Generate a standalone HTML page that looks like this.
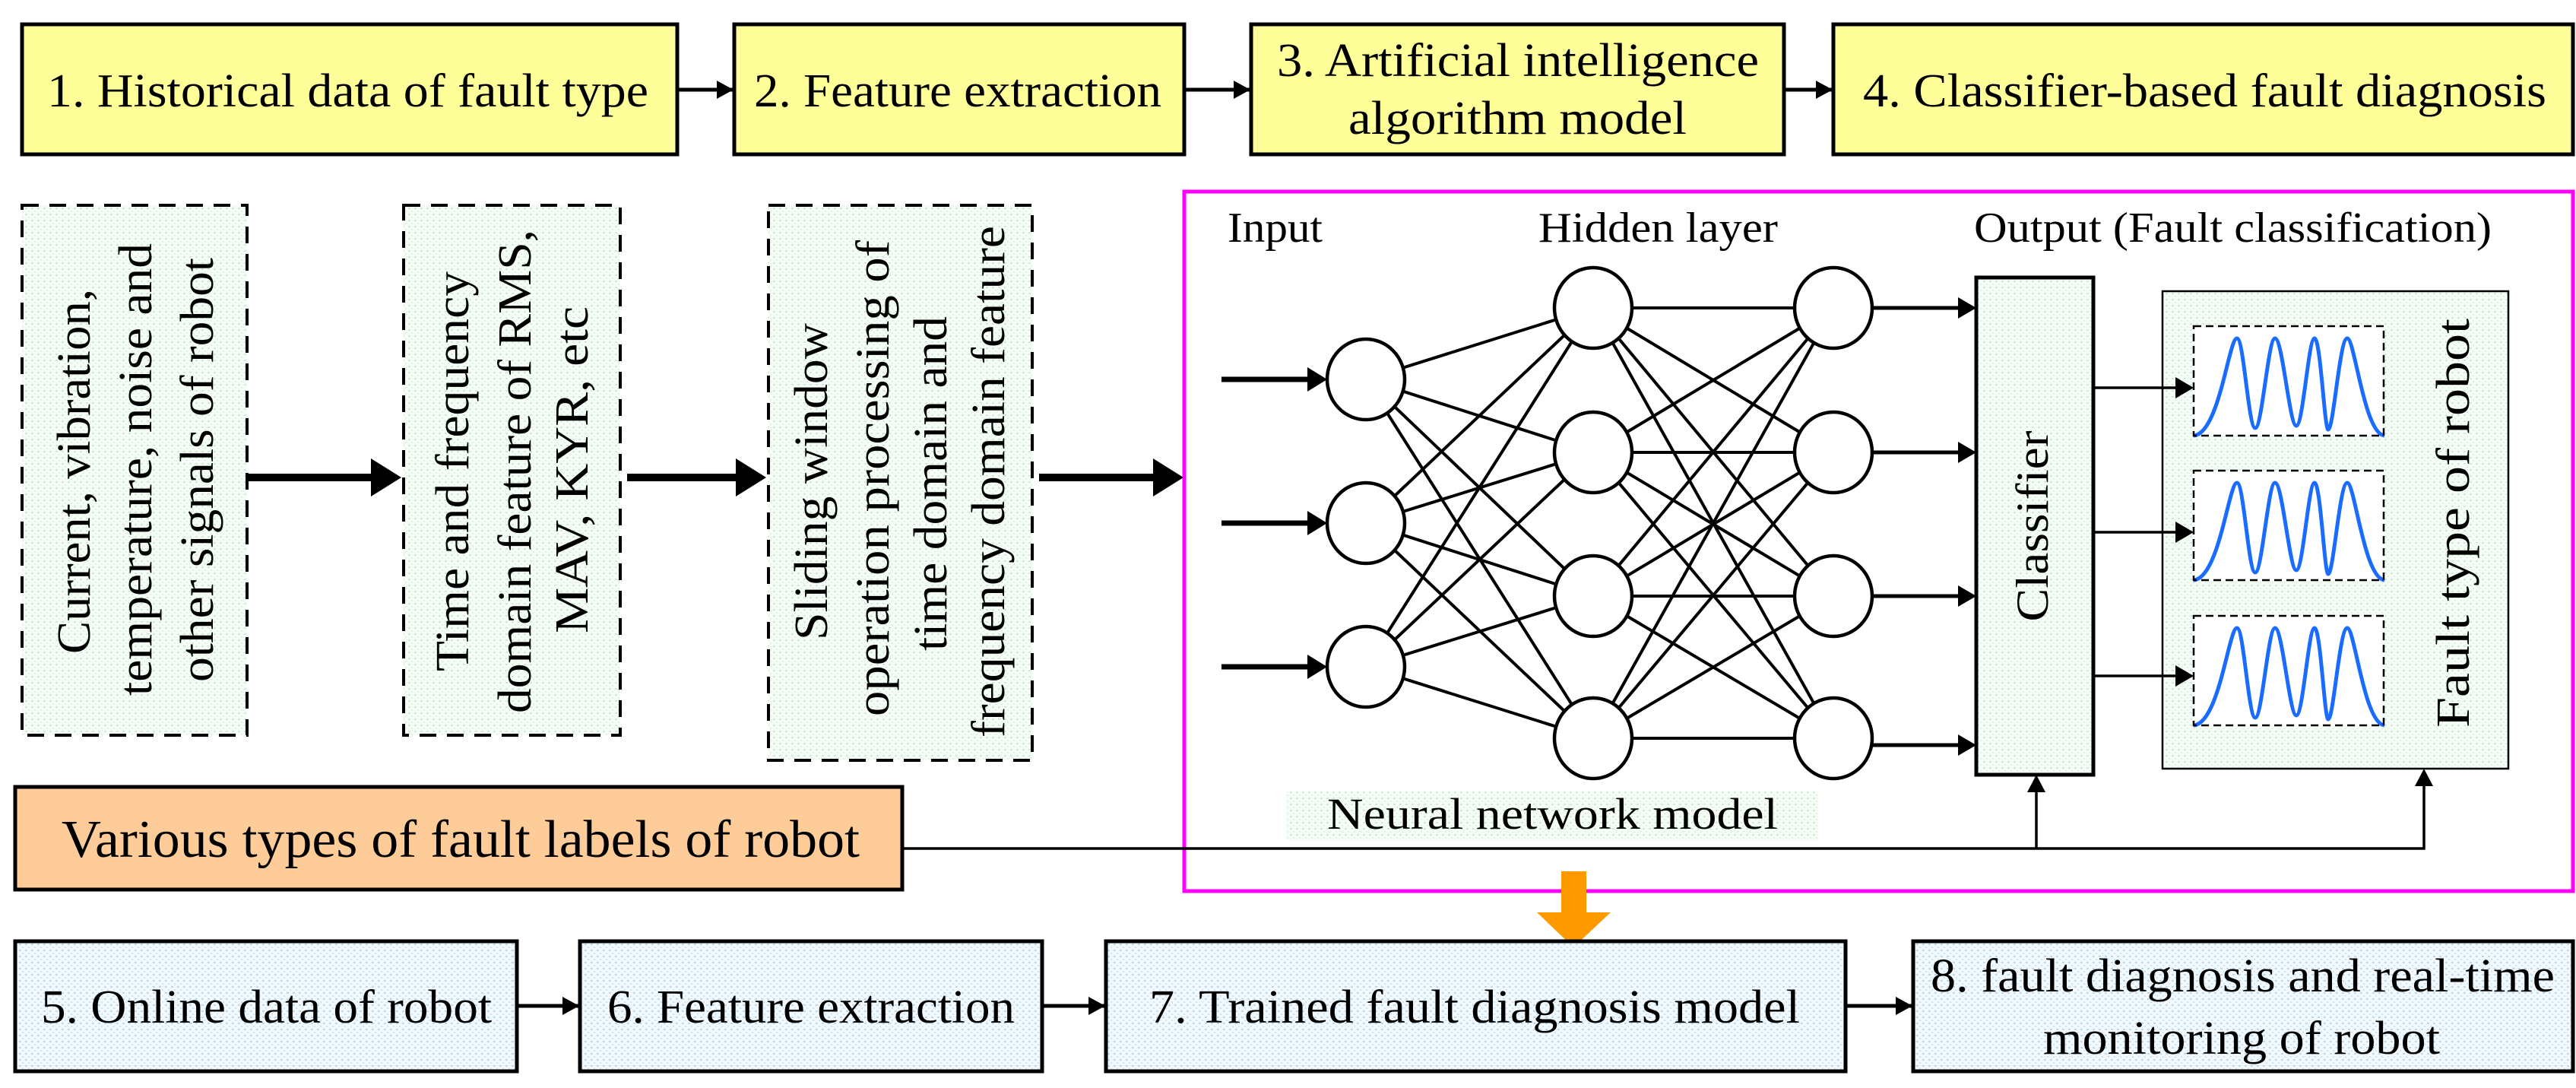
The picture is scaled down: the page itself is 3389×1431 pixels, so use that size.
<!DOCTYPE html>
<html><head><meta charset="utf-8"><style>
html,body{margin:0;padding:0;background:#fff}
svg{display:block}
text{font-family:"Liberation Serif",serif;fill:#000}
</style></head><body>
<svg width="3389" height="1431" viewBox="0 0 3389 1431" xmlns="http://www.w3.org/2000/svg">
<defs>
<pattern id="g" width="8" height="8" patternUnits="userSpaceOnUse"><rect width="8" height="8" fill="#f6fdf7"/><rect x="1" y="1" width="3" height="2" fill="#c9f0d2"/><rect x="5" y="5" width="2" height="2" fill="#d9f5df"/></pattern>
<pattern id="b" width="8" height="8" patternUnits="userSpaceOnUse"><rect width="8" height="8" fill="#f2f9fe"/><rect x="1" y="1" width="3" height="2" fill="#b5dcf5"/><rect x="5" y="5" width="2" height="2" fill="#cbe7f9"/></pattern>
<marker id="ah" markerWidth="22" markerHeight="24" refX="21" refY="12" orient="auto" markerUnits="userSpaceOnUse" viewBox="0 0 22 24"><path d="M0,0 L22,12 L0,24 z" fill="#000"/></marker>
<g id="plot"><path d="M2886,573 C2920,570 2932,445 2943,445 C2952,445 2958,563 2967,563 C2976,563 2984,445 2993,445 C3003,445 3012,560 3021,560 C3030,560 3037,445 3045,445 C3053,445 3058,565 3063,565 C3070,565 3078,445 3088,445 C3098,445 3110,570 3137,573" fill="none" stroke="#1a6cff" stroke-width="5"/>
<rect x="2886" y="429" width="250" height="144" fill="none" stroke="#000" stroke-width="2.5" stroke-dasharray="10,6"/></g>
</defs>

<g stroke="#000" stroke-width="5">
<rect x="29" y="32" width="862" height="171" fill="#ffff99"/>
<rect x="966" y="32" width="592" height="171" fill="#ffff99"/>
<rect x="1646" y="32" width="701" height="171" fill="#ffff99"/>
<rect x="2412" y="32" width="973" height="171" fill="#ffff99"/>
</g>
<g stroke="#000" stroke-width="5" marker-end="url(#ah)">
<line x1="891" y1="118" x2="964" y2="118"/>
<line x1="1558" y1="118" x2="1644" y2="118"/>
<line x1="2347" y1="118" x2="2410" y2="118"/>
</g>
<g font-size="62">
<text x="62" y="140" textLength="791" lengthAdjust="spacingAndGlyphs">1. Historical data of fault type</text>
<text x="992" y="140" textLength="536" lengthAdjust="spacingAndGlyphs">2. Feature extraction</text>
<text x="1680" y="100" textLength="634" lengthAdjust="spacingAndGlyphs">3. Artificial intelligence</text>
<text x="1774" y="176" textLength="445" lengthAdjust="spacingAndGlyphs">algorithm model</text>
<text x="2451" y="140" textLength="899" lengthAdjust="spacingAndGlyphs">4. Classifier-based fault diagnosis</text>
</g>

<g stroke="#000" stroke-width="4" stroke-dasharray="22,14" fill="url(#g)">
<rect x="29" y="270" width="296" height="697"/>
<rect x="531" y="270" width="285" height="697"/>
<rect x="1011" y="270" width="347" height="730"/>
</g>
<g font-size="62" dominant-baseline="central">
<text transform="translate(98,860) rotate(-90)" textLength="480" lengthAdjust="spacingAndGlyphs">Current, vibration,</text>
<text transform="translate(179,915) rotate(-90)" textLength="595" lengthAdjust="spacingAndGlyphs">temperature, noise and</text>
<text transform="translate(260,897) rotate(-90)" textLength="558" lengthAdjust="spacingAndGlyphs">other signals of robot</text>
<text transform="translate(596,883) rotate(-90)" textLength="526" lengthAdjust="spacingAndGlyphs">Time and frequency</text>
<text transform="translate(678,938) rotate(-90)" textLength="636" lengthAdjust="spacingAndGlyphs">domain feature of RMS,</text>
<text transform="translate(753,833) rotate(-90)" textLength="430" lengthAdjust="spacingAndGlyphs">MAV, KYR, etc</text>
<text transform="translate(1068,842) rotate(-90)" textLength="417" lengthAdjust="spacingAndGlyphs">Sliding window</text>
<text transform="translate(1149,942) rotate(-90)" textLength="626" lengthAdjust="spacingAndGlyphs">operation processing of</text>
<text transform="translate(1225,856) rotate(-90)" textLength="440" lengthAdjust="spacingAndGlyphs">time domain and</text>
<text transform="translate(1301,970) rotate(-90)" textLength="673" lengthAdjust="spacingAndGlyphs">frequency domain feature</text>
</g>
<g fill="#000">
<rect x="325" y="623" width="165" height="10"/><polygon points="488,603 528,628 488,653"/>
<rect x="825" y="623" width="145" height="10"/><polygon points="968,603 1008,628 968,653"/>
<rect x="1367" y="623" width="152" height="10"/><polygon points="1517,603 1557,628 1517,653"/>
</g>

<rect x="1558" y="252" width="1827" height="920" fill="none" stroke="#ff00ff" stroke-width="5"/>

<g font-size="56">
<text x="1615" y="318" textLength="125" lengthAdjust="spacingAndGlyphs">Input</text>
<text x="2024" y="318" textLength="315" lengthAdjust="spacingAndGlyphs">Hidden layer</text>
<text x="2597" y="318" textLength="681" lengthAdjust="spacingAndGlyphs">Output (Fault classification)</text>
</g>

<g stroke="#000" stroke-width="4">
<path d="M1797,499 L2096,405 M1797,499 L2096,595 M1797,499 L2096,784 M1797,499 L2096,971
M1797,688 L2096,405 M1797,688 L2096,595 M1797,688 L2096,784 M1797,688 L2096,971
M1797,877 L2096,405 M1797,877 L2096,595 M1797,877 L2096,784 M1797,877 L2096,971
M2096,405 L2412,405 M2096,405 L2412,595 M2096,405 L2412,784 M2096,405 L2412,971
M2096,595 L2412,405 M2096,595 L2412,595 M2096,595 L2412,784 M2096,595 L2412,971
M2096,784 L2412,405 M2096,784 L2412,595 M2096,784 L2412,784 M2096,784 L2412,971
M2096,971 L2412,405 M2096,971 L2412,595 M2096,971 L2412,784 M2096,971 L2412,971"/>
</g>
<g stroke="#000" stroke-width="4.5" fill="#fff">
<ellipse cx="1797" cy="499" rx="51" ry="53"/><ellipse cx="1797" cy="688" rx="51" ry="53"/><ellipse cx="1797" cy="877" rx="51" ry="53"/>
<ellipse cx="2096" cy="405" rx="51" ry="53"/><ellipse cx="2096" cy="595" rx="51" ry="53"/><ellipse cx="2096" cy="784" rx="51" ry="53"/><ellipse cx="2096" cy="971" rx="51" ry="53"/>
<ellipse cx="2412" cy="405" rx="51" ry="53"/><ellipse cx="2412" cy="595" rx="51" ry="53"/><ellipse cx="2412" cy="784" rx="51" ry="53"/><ellipse cx="2412" cy="971" rx="51" ry="53"/>
</g>
<g stroke="#000" stroke-width="7">
<line x1="1607" y1="499" x2="1725" y2="499"/><line x1="1607" y1="688" x2="1725" y2="688"/><line x1="1607" y1="877" x2="1725" y2="877"/>
</g>
<g fill="#000"><polygon points="1720,483 1746,499 1720,515"/><polygon points="1720,672 1746,688 1720,704"/><polygon points="1720,861 1746,877 1720,893"/></g>
<g stroke="#000" stroke-width="5">
<line x1="2463" y1="405" x2="2580" y2="405"/><line x1="2463" y1="595" x2="2580" y2="595"/><line x1="2463" y1="784" x2="2580" y2="784"/><line x1="2463" y1="980" x2="2580" y2="980"/>
</g>
<g fill="#000"><polygon points="2576,391 2600,405 2576,419"/><polygon points="2576,581 2600,595 2576,609"/><polygon points="2576,770 2600,784 2576,798"/><polygon points="2576,966 2600,980 2576,994"/></g>

<rect x="1692" y="1041" width="700" height="64" fill="url(#g)"/>
<text x="1746" y="1090" font-size="58" textLength="593" lengthAdjust="spacingAndGlyphs">Neural network model</text>

<rect x="2600" y="365" width="154" height="654" fill="url(#g)" stroke="#000" stroke-width="5"/>
<text transform="translate(2674,692) rotate(-90)" font-size="60" text-anchor="middle" dominant-baseline="central" textLength="251" lengthAdjust="spacingAndGlyphs">Classifier</text>

<rect x="2845" y="383" width="455" height="628" fill="url(#g)" stroke="#000" stroke-width="2.5"/>
<rect x="2886" y="429" width="250" height="144" fill="#fff"/>
<rect x="2886" y="619" width="250" height="144" fill="#fff"/>
<rect x="2886" y="810" width="250" height="144" fill="#fff"/>
<use href="#plot"/>
<use href="#plot" transform="translate(0,190)"/>
<use href="#plot" transform="translate(0,381)"/>
<text transform="translate(3228,688) rotate(-90)" font-size="62" text-anchor="middle" dominant-baseline="central" textLength="538" lengthAdjust="spacingAndGlyphs">Fault type of robot</text>
<g stroke="#000" stroke-width="3.5">
<line x1="2754" y1="510" x2="2866" y2="510"/><line x1="2754" y1="700" x2="2866" y2="700"/><line x1="2754" y1="889" x2="2866" y2="889"/>
</g>
<g fill="#000"><polygon points="2862,496 2886,510 2862,524"/><polygon points="2862,686 2886,700 2862,714"/><polygon points="2862,875 2886,889 2862,903"/></g>

<rect x="20" y="1035" width="1167" height="135" fill="#fdcc99" stroke="#000" stroke-width="5"/>
<text x="81" y="1127" font-size="70" textLength="1050" lengthAdjust="spacingAndGlyphs">Various types of fault labels of robot</text>
<polyline points="1187,1116 3189,1116 3189,1030" fill="none" stroke="#000" stroke-width="3.5"/>
<line x1="2679" y1="1116" x2="2679" y2="1040" stroke="#000" stroke-width="3.5"/>
<g fill="#000"><polygon points="2667,1042 2679,1019 2691,1042"/><polygon points="3177,1034 3189,1011 3201,1034"/></g>

<rect x="2054" y="1146" width="33" height="56" fill="#ff9900"/>
<polygon points="2022,1200 2119,1200 2070,1246" fill="#ff9900"/>

<g stroke="#000" stroke-width="5" fill="url(#b)">
<rect x="20" y="1238" width="660" height="171"/>
<rect x="763" y="1238" width="608" height="171"/>
<rect x="1455" y="1238" width="973" height="171"/>
<rect x="2517" y="1238" width="868" height="171"/>
</g>
<g stroke="#000" stroke-width="5" marker-end="url(#ah)">
<line x1="680" y1="1323" x2="761" y2="1323"/>
<line x1="1371" y1="1323" x2="1453" y2="1323"/>
<line x1="2428" y1="1323" x2="2515" y2="1323"/>
</g>
<g font-size="62">
<text x="54" y="1345" textLength="593" lengthAdjust="spacingAndGlyphs">5. Online data of robot</text>
<text x="799" y="1345" textLength="536" lengthAdjust="spacingAndGlyphs">6. Feature extraction</text>
<text x="1512" y="1345" textLength="856" lengthAdjust="spacingAndGlyphs">7. Trained fault diagnosis model</text>
<text x="2540" y="1304" textLength="821" lengthAdjust="spacingAndGlyphs">8. fault diagnosis and real-time</text>
<text x="2688" y="1386" textLength="522" lengthAdjust="spacingAndGlyphs">monitoring of robot</text>
</g>
</svg>
</body></html>
